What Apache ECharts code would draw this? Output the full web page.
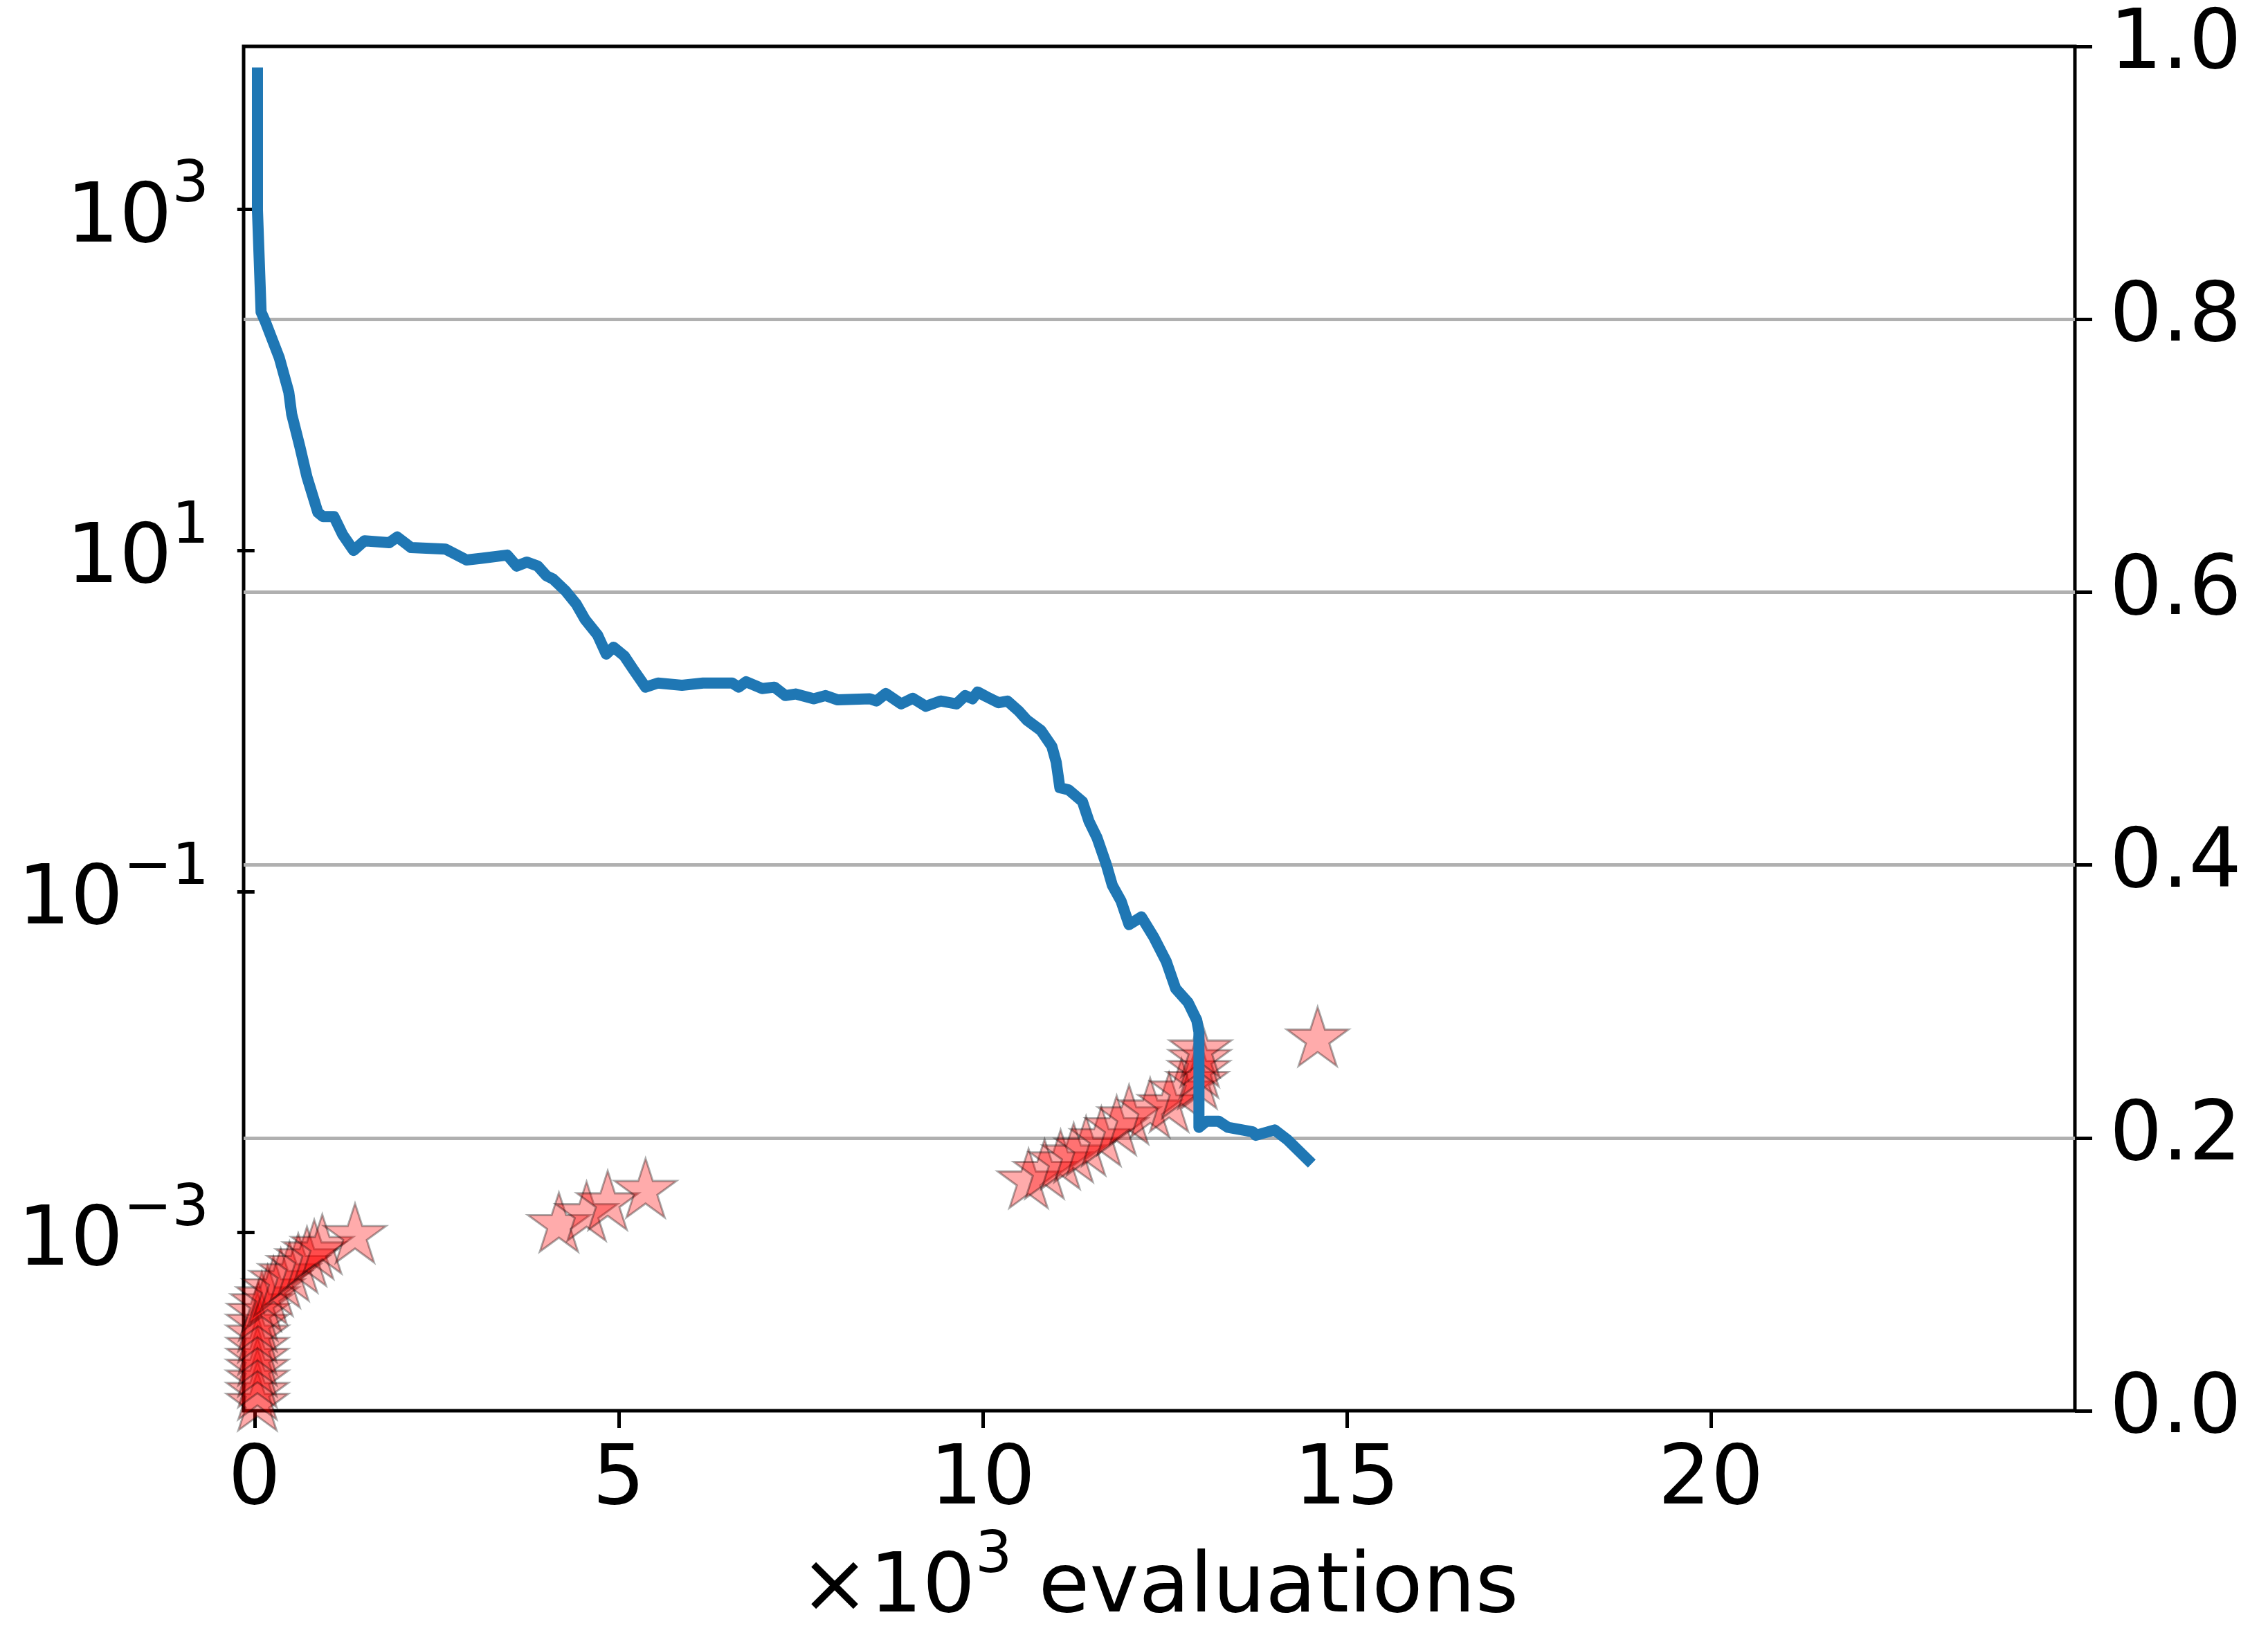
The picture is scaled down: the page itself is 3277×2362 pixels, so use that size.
<!DOCTYPE html>
<html><head><meta charset="utf-8">
<script src="https://cdn.jsdelivr.net/npm/echarts@6/dist/echarts.min.js"></script>
<style>html,body{margin:0;padding:0;background:#fff}#c{width:3277px;height:2362px}</style>
</head><body><div id="c"></div>
<script>
// ---- data ----
const xTicks = [0, 5, 10, 15, 20];
const yLeftTicks = [0.001, 0.1, 10, 1000];
const yRightMin = 0, yRightMax = 1, yRightStep = 0.2;

// blue line: x (×10^3 evaluations), y (log-scale value)
const lineX = [0.04, 0.04, 0.09, 0.15, 0.34, 0.47, 0.51, 0.62, 0.72, 0.87, 0.94, 1.09, 1.21, 1.36, 1.51, 1.85, 1.96, 2.15, 2.62, 2.91, 3.12, 3.47, 3.60, 3.74, 3.89, 4.01, 4.10, 4.27, 4.42, 4.54, 4.71, 4.83, 4.93, 5.08, 5.20, 5.37, 5.54, 5.87, 6.16, 6.56, 6.65, 6.75, 6.97, 7.14, 7.29, 7.43, 7.68, 7.84, 8.01, 8.45, 8.54, 8.67, 8.88, 9.04, 9.22, 9.42, 9.64, 9.76, 9.86, 9.93, 10.05, 10.22, 10.34, 10.49, 10.61, 10.80, 10.95, 11.01, 11.06, 11.18, 11.37, 11.46, 11.57, 11.70, 11.78, 11.90, 12.01, 12.18, 12.35, 12.52, 12.65, 12.82, 12.94, 12.97, 12.97, 13.07, 13.24, 13.37, 13.71, 13.75, 14.01, 14.18, 14.52];
const lineY = [6800, 990, 250, 219, 135, 85, 63, 41, 27, 16.7, 15.8, 15.8, 12.4, 10.0, 11.4, 11.1, 12.0, 10.4, 10.2, 8.8, 9.0, 9.4, 8.1, 8.55, 8.1, 7.1, 6.8, 5.8, 4.84, 3.94, 3.2, 2.47, 2.71, 2.40, 2.01, 1.58, 1.67, 1.62, 1.67, 1.67, 1.58, 1.70, 1.55, 1.58, 1.41, 1.44, 1.35, 1.41, 1.33, 1.35, 1.31, 1.45, 1.26, 1.36, 1.22, 1.31, 1.26, 1.41, 1.35, 1.48, 1.39, 1.28, 1.31, 1.15, 1.01, 0.88, 0.71, 0.574, 0.406, 0.395, 0.337, 0.258, 0.207, 0.143, 0.109, 0.088, 0.064, 0.071, 0.054, 0.039, 0.027, 0.0224, 0.0176, 0.0150, 0.00414, 0.0045, 0.0045, 0.00414, 0.0039, 0.00372, 0.0040, 0.00352, 0.00254];

// red stars: x (×10^3 evaluations), y (right axis 0..1)
const starX = [0.04, 0.04, 0.04, 0.04, 0.04, 0.04, 0.04, 0.04, 0.05, 0.10, 0.18, 0.26, 0.36, 0.48, 0.60, 0.72, 0.82, 0.93, 1.38, 4.18, 4.56, 4.85, 5.37, 10.63, 10.85, 11.07, 11.25, 11.42, 11.63, 11.84, 12.01, 12.30, 12.56, 12.73, 12.95, 12.97, 12.98, 12.99, 14.6];
const starY = [0.005, 0.013, 0.022, 0.030, 0.038, 0.046, 0.055, 0.063, 0.071, 0.078, 0.083, 0.089, 0.095, 0.100, 0.106, 0.111, 0.116, 0.120, 0.128, 0.136, 0.144, 0.152, 0.161, 0.168, 0.175, 0.182, 0.187, 0.192, 0.199, 0.207, 0.215, 0.220, 0.224, 0.234, 0.241, 0.249, 0.257, 0.264, 0.272];

const xAxisName = ['×10', '3', ' evaluations'];

// ---- chart ----
const FONT = 'DejaVu Sans';
const STAR = 'path://M0,-100L22.45,-30.9L95.11,-30.9L36.33,11.8L58.78,80.9L0,38.2L-58.78,80.9L-36.33,11.8L-95.11,-30.9L-22.45,-30.9ZM0,100';

const lineData = lineX.map((x, i) => [x, lineY[i]]);
const starData = starX.map((x, i) => [x, starY[i]]);

const chart = echarts.init(document.getElementById('c'), null, {renderer: 'canvas'});
chart.setOption({
  animation: false,
  backgroundColor: '#fff',
  grid: {left: 352, right: 279, top: 67, bottom: 318, show: true, borderColor: '#000', borderWidth: 5, containLabel: false},
  xAxis: {
    type: 'value', min: -0.15, max: 25,
    axisLine: {show: false},
    splitLine: {show: false},
    axisTick: {show: true, customValues: xTicks, length: 25, lineStyle: {color: '#000', width: 5}},
    axisLabel: {customValues: xTicks, margin: 43, fontSize: 120, fontFamily: FONT, color: '#000', formatter: v => String(v)},
    name: '{a|' + xAxisName[0] + '}{s|' + xAxisName[1] + '}{a|' + xAxisName[2] + '}',
    nameLocation: 'middle', nameGap: 169,
    nameTextStyle: {
      rich: {
        a: {fontSize: 120, lineHeight: 150, fontFamily: FONT, color: '#000', verticalAlign: 'bottom'},
        s: {fontSize: 84, lineHeight: 84, fontFamily: FONT, color: '#000', verticalAlign: 'top'}
      }
    }
  },
  yAxis: [
    {
      type: 'log', logBase: 10, min: 9.03e-5, max: 9036, position: 'left',
      axisLine: {show: false},
      splitLine: {show: false},
      minorTick: {show: false},
      axisTick: {show: true, customValues: yLeftTicks, length: 25, lineStyle: {color: '#000', width: 5}},
      axisLabel: {
        customValues: yLeftTicks, margin: 50,
        formatter: v => {
          const e = Math.round(Math.log10(v));
          return '{b|10}{s|' + (e < 0 ? '\u2212' + (-e) : e) + '}';
        },
        rich: {
          b: {fontSize: 120, lineHeight: 150, fontFamily: FONT, color: '#000', verticalAlign: 'bottom'},
          s: {fontSize: 84, lineHeight: 84, fontFamily: FONT, color: '#000', verticalAlign: 'top'}
        }
      }
    },
    {
      type: 'value', min: yRightMin, max: yRightMax, interval: yRightStep, position: 'right',
      axisLine: {show: false},
      axisTick: {show: true, length: 25, lineStyle: {color: '#000', width: 5}},
      axisLabel: {margin: 50, fontSize: 120, fontFamily: FONT, color: '#000', formatter: v => v.toFixed(1)},
      splitLine: {show: true, showMinLine: false, showMaxLine: false, lineStyle: {color: '#b0b0b0', width: 5}}
    }
  ],
  series: [
    {
      type: 'line', xAxisIndex: 0, yAxisIndex: 0, data: lineData,
      showSymbol: false, symbol: 'none',
      lineStyle: {color: '#1f77b4', width: 16, join: 'round', cap: 'butt'}
    },
    {
      type: 'scatter', xAxisIndex: 0, yAxisIndex: 1, data: starData,
      symbol: STAR, symbolSize: [89, 94],
      itemStyle: {color: '#ff0000', borderColor: '#000', borderWidth: 3, opacity: 0.33}
    }
  ]
});
</script></body></html>
